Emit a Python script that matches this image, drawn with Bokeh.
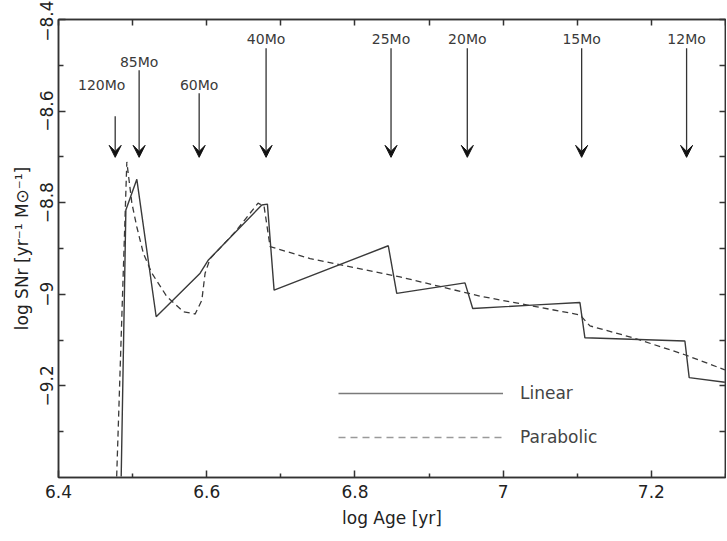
from bokeh.plotting import figure
from bokeh.models import (ColumnDataSource, Arrow, VeeHead, LabelSet, LinearAxis,
                          FixedTicker, CustomJSTickFormatter, Legend, LegendItem)
from bokeh.core.properties import value
from bokeh.embed import file_html
from bokeh.resources import INLINE

# ---- data ----
lin_x = [6.4846, 6.4909, 6.5057, 6.5318, 6.5911, 6.6023, 6.6743, 6.6819, 6.6909,
         6.8450, 6.8564, 6.9485, 6.9589, 7.0452, 7.1036, 7.1103, 7.2452, 7.2510, 7.2991]
lin_y = [-9.398, -8.816, -8.749, -9.049, -8.954, -8.925, -8.805, -8.803, -8.991,
         -8.894, -8.998, -8.975, -9.031, -9.023, -9.018, -9.095, -9.102, -9.182, -9.192]

par_x = [6.4785, 6.4922, 6.4990, 6.5057, 6.5146, 6.5260, 6.5462, 6.5686, 6.5844,
         6.5934, 6.5978, 6.6046, 6.6383, 6.6693, 6.6774, 6.6855, 6.7395, 6.8608,
         6.9687, 7.1036, 7.1171, 7.1775, 7.2452, 7.2991]
par_y = [-9.398, -8.711, -8.801, -8.853, -8.911, -8.954, -9.005, -9.038, -9.043,
         -9.013, -8.954, -8.922, -8.864, -8.801, -8.808, -8.896, -8.922, -8.962,
         -9.004, -9.045, -9.069, -9.096, -9.132, -9.165]

mass_labels = ["120Mo", "85Mo", "60Mo", "40Mo", "25Mo", "20Mo", "15Mo", "12Mo"]
arrow_x = [6.4765, 6.5088, 6.5898, 6.6801, 6.8487, 6.9516, 7.1059, 7.2475]
arrow_top = [-8.611, -8.511, -8.561, -8.463, -8.463, -8.463, -8.463, -8.463]
arrow_tip = [-8.701, -8.701, -8.701, -8.701, -8.701, -8.701, -8.701, -8.701]
label_x = [6.4583, 6.5088, 6.5898, 6.6801, 6.8487, 6.9516, 7.1059, 7.2475]
label_y = [-8.542, -8.493, -8.542, -8.442, -8.442, -8.442, -8.442, -8.442]

x_major = [6.4, 6.6, 6.8, 7.0, 7.2]
x_minor = [6.5, 6.7, 6.9, 7.1, 7.3]
y_major = [-9.2, -9.0, -8.8, -8.6, -8.4]
y_minor = [-9.3, -9.1, -8.9, -8.7, -8.5]

series_names = ["Linear", "Parabolic"]

FONT = "DejaVu Sans"
AXC = "#333333"
TXT = "#222222"

p = figure(width=726, height=540, x_range=(6.4, 7.3), y_range=(-9.4, -8.4),
           output_backend="svg", toolbar_location=None,
           min_border_left=58, min_border_right=1, min_border_top=19, min_border_bottom=63)
p.xgrid.visible = False
p.ygrid.visible = False
p.outline_line_color = AXC
p.outline_line_width = 1.5
p.background_fill_color = "white"
p.border_fill_color = "white"

fmt = CustomJSTickFormatter(code="""
const s = Math.abs(tick).toFixed(1).replace(/\\.0$/, '');
return (tick < -1e-9 ? '\\u2212' : '') + s;
""")

# bottom axis
xa = p.xaxis[0]
xa.ticker = FixedTicker(ticks=x_major, minor_ticks=x_minor)
xa.formatter = fmt
xa.major_tick_in = 7
xa.major_tick_out = 0
xa.minor_tick_in = 4
xa.minor_tick_out = 0
xa.axis_line_color = AXC
xa.axis_line_width = 1.5
xa.major_tick_line_color = AXC
xa.minor_tick_line_color = AXC
xa.major_tick_line_width = 1.5
xa.minor_tick_line_width = 1.5
xa.major_label_text_font = FONT
xa.major_label_text_font_size = "17px"
xa.major_label_text_color = TXT
xa.major_label_standoff = 7
xa.axis_label = "log Age [yr]"
xa.axis_label_text_font = FONT
xa.axis_label_text_font_size = "17px"
xa.axis_label_text_font_style = "normal"
xa.axis_label_text_color = TXT
xa.axis_label_standoff = 7

# left axis
ya = p.yaxis[0]
ya.ticker = FixedTicker(ticks=y_major, minor_ticks=y_minor)
ya.formatter = fmt
ya.major_tick_in = 7
ya.major_tick_out = 0
ya.minor_tick_in = 5
ya.minor_tick_out = 0
ya.axis_line_color = AXC
ya.axis_line_width = 1.5
ya.major_tick_line_color = AXC
ya.minor_tick_line_color = AXC
ya.major_tick_line_width = 1.5
ya.minor_tick_line_width = 1.5
ya.major_label_text_font = FONT
ya.major_label_text_font_size = "17px"
ya.major_label_text_color = TXT
ya.major_label_orientation = "vertical"
ya.major_label_standoff = 5
ya.axis_label = "log SNr [yr\u207b\u00b9 M\u2299\u207b\u00b9]"
ya.axis_label_text_font = FONT
ya.axis_label_text_font_size = "17px"
ya.axis_label_text_font_style = "normal"
ya.axis_label_text_color = TXT
ya.axis_label_standoff = 6

# top & right tick-only axes (no labels drawn)
top = LinearAxis(ticker=FixedTicker(ticks=x_major + x_minor, minor_ticks=[]),
                 major_tick_in=6, major_tick_out=0, minor_tick_in=0, minor_tick_out=0,
                 major_label_text_font_size="0px", major_label_text_color=None,
                 major_label_standoff=0,
                 axis_line_color=AXC, axis_line_width=1.5,
                 major_tick_line_color=AXC, major_tick_line_width=1.5)
p.add_layout(top, "above")
right = LinearAxis(ticker=FixedTicker(ticks=y_major + y_minor, minor_ticks=[]),
                   major_tick_in=6, major_tick_out=0, minor_tick_in=0, minor_tick_out=0,
                   major_label_text_font_size="0px", major_label_text_color=None,
                   major_label_standoff=0,
                   axis_line_color=AXC, axis_line_width=1.5,
                   major_tick_line_color=AXC, major_tick_line_width=1.5)
p.add_layout(right, "right")

# data curves
p.line(lin_x, lin_y, line_color="#3a3a3a", line_width=1.4)
p.line(par_x, par_y, line_color="#3a3a3a", line_width=1.3, line_dash="6 4")

# arrows + labels
asrc = ColumnDataSource(dict(x=arrow_x, ys=arrow_top, ye=arrow_tip))
p.add_layout(Arrow(end=VeeHead(size=12, fill_color="#111111", line_color="#111111"),
                   x_start="x", y_start="ys", x_end="x", y_end="ye", source=asrc,
                   line_color="#333333", line_width=1.3))
lsrc = ColumnDataSource(dict(x=label_x, y=label_y, t=mass_labels))
p.add_layout(LabelSet(x="x", y="y", text="t", source=lsrc, text_align="center",
                      text_baseline="middle", text_font=value(FONT), text_font_size="14px",
                      text_color="#3a3a3a"))

# legend (styled proxies: single-point lines draw nothing in the plot)
leg_lin = p.line([lin_x[0]], [lin_y[0]], line_color="#7a7a7a", line_width=1.5)
leg_par = p.line([par_x[0]], [par_y[0]], line_color="#9a9a9a", line_width=1.5, line_dash="7 5")
legend = Legend(items=[LegendItem(label=series_names[0], renderers=[leg_lin]),
                       LegendItem(label=series_names[1], renderers=[leg_par])],
                location=(280, 30), glyph_width=165, glyph_height=20, label_height=20,
                label_standoff=17, spacing=24, padding=0, margin=0,
                border_line_alpha=0, background_fill_alpha=0,
                label_text_font=FONT, label_text_font_size="17px",
                label_text_color="#444444")
p.add_layout(legend)

open("out.html", "w", encoding="utf-8").write(file_html(p, INLINE))
